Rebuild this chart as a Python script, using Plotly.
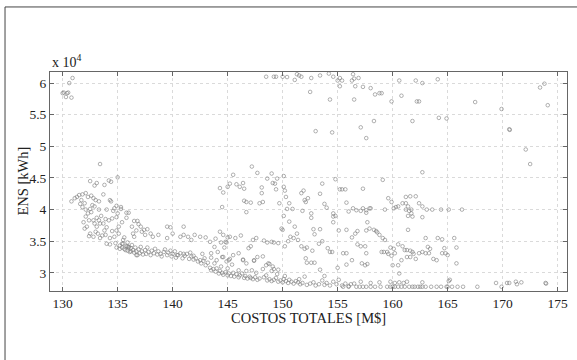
import plotly.graph_objects as go

# Data: (COSTOS TOTALES [M$], ENS [thousand kWh])
top_left = [(130.0,58.4),(130.4,58.4),(130.5,58.5),(130.3,57.8),(130.8,57.7),(130.6,60.0),(130.9,60.8),(130.1,58.5)]

upper_right = [(148.5,61.0),(149.2,61.0),(149.4,61.0),(150.0,61.0),(150.4,60.95),(151.1,60.5),(151.3,61.4),(151.5,61.2),
    (151.7,61.0),(152.6,60.8),(152.5,58.6),(153.4,61.2),(154.2,61.5),(154.3,57.4),(154.6,61.0),(155.0,60.4),(155.2,59.5),
    (155.4,60.4),(155.2,60.8),(156.3,60.4),(156.4,61.4),(156.5,60.7),(156.6,59.5),(156.9,60.8),(156.5,57.4),(157.3,59.4),
    (158.0,59.2),(158.4,58.2),(158.8,58.4),(159.0,58.4),(159.9,57.1),(160.6,60.4),(160.8,58.0),(162.1,60.4),(162.7,60.0),
    (162.2,57.1),(162.4,57.1),(164.1,60.6),(161.8,54.0),(158.3,54.0),(164.2,54.5),(164.9,54.4),(157.1,53.0),(157.6,51.3),
    (153.0,52.4),(154.5,52.2),(167.5,57.0),(169.9,55.9),(170.6,52.7),(170.65,52.6),(172.1,49.5),(172.5,47.2),(173.4,59.3),
    (173.8,59.9),(174.1,56.5)]

far_right_low = [(169.4,28.4),(169.9,27.8),(170.4,28.4),(170.6,28.4),(171.2,28.6),(171.3,28.2),(171.7,28.5),(173.9,28.4),(173.95,28.3)]

bottom_band = [(155.5,27.8),(156.0,27.8),(156.7,27.8),(157.0,27.8),(157.3,27.8),(157.6,27.8),(158.0,27.8),(158.4,27.8),
    (158.9,27.8),(159.5,27.8),(159.8,27.8),(160.0,27.8),(160.2,27.8),(160.5,27.8),(160.8,27.8),(161.1,27.8),(161.5,27.8),
    (161.8,27.8),(162.0,27.8),(162.3,27.8),(162.5,27.8),(162.7,27.8),(163.0,27.8),(163.5,27.8),(164.0,27.8),(164.4,27.8),
    (164.9,27.8),(165.0,27.8),(165.4,27.8),(165.9,27.8),(166.4,27.8),(167.7,27.8),(156.5,28.3),(157.1,28.6),(158.0,28.4),
    (158.8,28.5),(159.8,28.6),(160.2,28.4),(160.6,28.5),(161.0,28.4),(161.3,28.6),(162.7,28.5),(165.2,28.9)]

frontier = [(135.2,34.3),(135.4,34.0),(135.5,34.6),(135.6,33.8),(135.8,34.2),(135.9,33.5),(136.0,34.0),(136.1,33.3),
    (136.2,33.9),(136.3,34.4),(136.4,33.6),(136.5,33.2),(136.6,34.0),(136.7,33.4),(136.8,32.8),(136.9,33.7),(137.0,33.1),
    (137.1,34.1),(137.2,33.4),(137.3,32.9),(137.5,33.6),(137.6,33.0),(137.7,34.0),(137.8,33.3),(138.0,32.8),(138.1,33.5),
    (138.3,33.1),(138.4,33.8),(138.6,32.9),(138.7,33.4),(138.9,33.0),(139.0,32.6),(139.2,33.3),(139.3,33.7),(139.5,32.8),
    (139.6,33.2),(139.8,33.5),(139.9,32.6),(140.0,33.0),(140.2,33.4),(140.3,32.4),(140.5,32.8),(140.7,33.1),(140.9,32.3),
    (141.1,32.7),(141.3,33.0),(141.5,32.2),(141.7,32.6),(141.9,32.1),(142.1,32.3),(142.3,31.8),(142.5,32.0),(142.6,31.5),
    (142.8,31.9),(143.0,31.2),(143.2,31.6),(143.4,30.8),(143.5,30.4),(143.7,30.6),(143.9,30.2),(144.0,30.7),(144.2,29.9),
    (144.3,30.3),(144.5,30.0),(144.6,29.7),(144.8,30.1),(145.0,29.6),(145.1,29.9),(145.3,29.5),(145.5,30.0),(145.6,29.4),
    (145.8,29.8),(146.0,29.3),(146.1,29.6),(146.3,29.9),(146.5,29.2),(146.6,29.5),(146.8,29.1),(147.0,29.4),(147.1,29.2),
    (147.3,29.0),(147.5,29.3),(147.7,28.9),(147.9,29.1),(148.3,29.3),(148.6,28.8),(148.8,29.0),(149.0,28.7),(149.2,28.9),
    (149.4,29.2),(149.6,28.6),(149.8,28.8),(150.0,28.5),(150.1,29.0),(150.3,28.7),(150.5,28.4),(150.6,28.9),(150.8,28.6),
    (151.0,28.3),(151.2,28.7),(151.4,28.5),(151.6,28.2),(151.8,28.4),(152.2,28.1),(152.5,28.3),(152.8,28.5),(153.0,28.0),
    (153.3,28.2),(153.6,28.8),(153.8,28.1),(154.0,28.4),(154.3,28.0),(154.6,28.6),(154.9,28.2),(155.1,28.9),(155.4,28.0),
    (155.7,28.3),(156.0,27.9),(156.2,28.2),
    (143.8,31.5),(144.4,31.0),(145.0,30.7),(145.4,31.3),(146.0,30.4),(146.7,30.3),(147.2,30.4),(147.6,30.0),(148.2,30.6),
    (149.0,30.3),(149.5,29.8),(148.5,29.6),(144.9,31.8),(145.2,32.2),(146.4,32.1),(147.4,31.9),(148.5,31.2),(148.8,31.4),
    (149.2,30.6),(150.2,29.5),(151.5,29.0),(152.0,29.4),(143.5,32.4),(144.1,33.3),(144.6,32.5)]

left_cluster = [(130.8,41.3),(131.1,41.8),(131.3,42.0),(131.5,42.3),(131.8,42.4),(132.1,42.6),(132.3,42.0),(132.6,42.2),
    (132.8,41.8),(133.0,41.5),(133.3,41.3),(133.7,42.4),(134.3,41.5),(134.4,41.3),(134.9,40.6),(135.3,40.4),(131.6,40.9),
    (131.8,40.4),(132.1,40.0),(132.5,40.1),(132.7,40.7),(133.3,40.0),(134.0,40.0),(134.7,40.2),(132.3,39.4),(132.1,38.9),
    (132.4,38.3),(132.8,38.3),(133.1,38.7),(133.3,38.3),(132.9,37.8),(133.1,37.3),(133.4,37.8),(133.7,37.8),(133.8,36.7),
    (132.2,37.3),(132.5,36.2),(132.8,35.7),(133.2,36.2),(133.4,35.5),(133.9,36.0),(134.3,35.5),(134.5,36.6),(134.2,38.3),
    (134.5,38.6),(135.0,39.4),(134.9,38.8),(135.8,39.5),(136.0,39.5),(135.8,38.7),(135.4,38.0),(135.1,37.3),(134.9,36.7),
    (135.1,36.2),(134.7,35.7),(134.0,34.6),(134.3,34.5),(134.8,34.7),(135.4,34.6),(134.9,34.0),(135.2,33.8),(135.9,34.2),
    (135.9,34.8),(135.6,35.6),(135.5,35.2),(136.5,35.7),(136.7,36.7),(136.5,38.2),(136.8,38.2),(136.9,37.7),(137.1,37.3),
    (137.4,36.8),(137.7,36.9),(136.3,37.3),(136.4,36.2),(137.2,36.5),(137.5,36.0),(136.0,34.1),(135.7,33.6),(136.2,33.4),
    (136.7,32.8),(133.4,47.2),(132.5,44.5),(133.1,44.2),(132.9,43.8),(134.2,44.6),(134.4,44.4),(135.0,45.1),(133.8,43.9),
    (131.9,38.0),(132.0,37.0),(132.6,39.6),(133.5,39.0),(133.0,36.5),(133.6,35.9),(134.0,37.2),(132.4,35.8),(133.9,38.5),
    (134.6,39.8),(135.3,40.1),(132.9,40.5),(131.7,41.5),(132.0,41.0)]

mid_scatter = [(139.5,37.3),(139.8,37.2),(141.0,37.3),(138.0,36.2),(138.2,35.7),(138.7,36.0),(139.5,35.5),(140.0,36.2),
    (140.7,35.7),(141.0,36.0),(141.4,35.7),(141.7,35.2),(142.0,36.0),(142.5,35.7),(143.0,35.6),(143.4,34.9),(143.9,35.4),
    (144.4,34.8),(144.9,34.8),(145.2,35.7),(144.7,34.0),(143.8,34.1),(143.5,33.1),(144.0,32.0),(144.5,32.5),(145.1,32.0),
    (145.5,32.8),(146.0,33.1),(146.4,32.0),(146.7,31.5),(147.4,32.0),(147.7,32.5),(148.2,32.6),(148.7,31.5),(149.1,31.0),
    (149.6,30.5),(141.6,33.2),(141.9,32.7),(142.7,33.0),(142.9,32.3),(141.0,33.0),(140.4,32.8),(144.3,36.5),(144.6,36.0),
    (144.8,34.9),(145.0,35.6),(145.7,35.5),(146.2,35.9),(147.3,35.2),(147.6,35.5),(146.9,33.9),(147.1,34.2)]

upper_mid = [(144.3,43.4),(144.6,42.7),(144.5,40.4),(145.0,43.6),(145.2,44.1),(145.5,45.5),(145.8,44.0),(146.1,43.6),
    (146.4,44.2),(146.5,43.3),(146.5,41.4),(146.7,41.2),(146.7,39.6),(147.1,41.1),(147.2,46.8),(147.7,45.8),(148.1,43.5),
    (148.1,42.6),(148.2,41.2),(147.9,41.0),(148.6,44.9),(149.0,45.7),(149.1,44.2),(149.3,44.1),(149.4,43.2),(149.5,44.9),
    (149.7,41.0),(150.1,45.3),(150.1,43.6),(150.3,42.0),(150.6,41.0),(150.4,40.1),(150.9,40.1),(150.2,43.0),(150.1,39.0),
    (150.6,38.1),(151.1,37.3),(151.3,36.2),(151.7,42.6),(151.9,43.0),(152.0,41.5),(152.1,41.2),(152.3,41.8),(151.8,39.8),
    (152.6,39.4),(152.6,38.7),(152.8,36.9),(152.9,36.1),(153.4,42.5),(153.6,44.1),(153.8,40.9),(154.0,40.3),(153.4,36.9),
    (154.8,44.8),(155.2,43.2),(155.4,43.2),(155.7,43.2),(155.8,41.1),(156.0,39.7),(156.4,40.2),(156.7,39.9),(157.1,39.8),
    (157.3,40.2),(157.6,39.9),(157.9,40.2),(158.0,40.2),(157.3,43.3),(154.6,39.4),(154.6,38.9),(154.8,39.0),(154.6,38.0),
    (155.1,36.7),(155.8,36.8),(156.3,35.6),(156.6,36.2),(156.8,36.6),(157.6,36.7),(157.9,37.0),(158.3,36.8),(158.5,36.6),
    (158.6,36.4),(158.8,36.0),(159.1,35.5),(159.3,35.2),(157.7,38.0),(157.6,39.5),(159.1,44.7),(159.6,41.8),(159.3,40.0),
    (159.9,41.2),(160.1,40.2),(160.3,40.4),(160.5,40.5),(160.9,41.0),(161.2,42.0),(161.6,42.1),(162.1,42.1),(162.4,41.0),
    (162.7,40.5),(162.7,45.9),(163.1,40.0),(163.6,40.0),(164.4,40.0),(165.1,40.0),(166.3,40.0),(161.2,41.0),(161.4,40.5),
    (161.7,40.0),(161.2,40.0),(161.5,39.8),(161.7,39.4),(161.4,39.0),(161.8,38.9),(161.4,36.8),(162.7,38.8),(163.0,35.5),
    (163.2,34.1),(163.3,33.1),(164.1,35.5),(164.5,35.3),(164.7,33.9),(164.8,33.1),(165.6,35.5),(165.8,34.0),(165.8,31.5),
    (165.1,28.7)]

right_mid = [(155.5,33.1),(155.8,33.1),(156.8,34.5),(157.1,34.2),(157.5,34.2),(157.6,33.1),(157.2,31.5),(157.5,31.2),
    (157.7,31.4),(159.0,33.3),(159.2,33.3),(159.5,33.3),(159.6,33.0),(159.9,32.7),(160.1,33.8),(160.2,33.1),(160.5,31.2),
    (160.8,32.0),(160.9,34.2),(161.1,33.6),(161.3,33.6),(161.6,33.5),(161.8,33.3),(161.9,33.0),(161.3,32.5),(161.6,32.5),
    (162.1,32.2),(162.4,33.1),(162.7,33.3),(163.0,33.1),(163.4,33.8),(163.7,32.2),(164.0,32.0),(164.5,33.1),(165.0,32.8),
    (160.0,31.2),(160.6,29.9),(159.8,34.0),(160.5,34.5),
    (150.7,35.7),(151.0,35.5),(151.4,35.2),(151.7,34.2),(152.0,33.8),(152.2,34.0),(152.7,33.5),(152.9,31.6),(152.1,32.3),
    (152.2,31.6),(152.6,31.6),(153.3,34.6),(153.6,35.0),(154.1,33.9),(154.5,33.3),(154.3,33.3),(153.4,30.5),(153.8,29.5),
    (150.2,34.2),(150.5,35.0),(149.6,34.7),(149.2,34.8),(149.0,34.9),(148.6,34.8),(148.3,35.1),(150.0,36.8),(149.9,37.0),
    (155.0,30.8),(156.3,32.0),(155.8,31.3)]

groups = [top_left, upper_right, far_right_low, bottom_band, frontier, left_cluster, mid_scatter, upper_mid, right_mid]
costs = [p[0] for g in groups for p in g]
ens_k = [p[1] for g in groups for p in g]
ens = [v * 1000 for v in ens_k]

x_ticks = [130, 135, 140, 145, 150, 155, 160, 165, 170, 175]
y_ticks = [30000, 35000, 40000, 45000, 50000, 55000, 60000]
y_tick_text = ["3", "3.5", "4", "4.5", "5", "5.5", "6"]

font_family = "Liberation Serif, Times New Roman, serif"

fig = go.Figure()
fig.add_trace(go.Scatter(
    x=costs, y=ens, mode="markers",
    marker=dict(symbol="circle-open", size=3.6, color="#7c7c7c", line=dict(width=0.6)),
    hoverinfo="x+y", showlegend=False,
))

axis_common = dict(
    showline=True, linecolor="#666", linewidth=1, mirror="ticks",
    ticks="inside", ticklen=4, tickcolor="#666",
    showgrid=True, gridcolor="#dadada", griddash="dot", gridwidth=1,
    zeroline=False, tickfont=dict(family=font_family, size=13.5, color="#222"),
)

fig.update_xaxes(range=[128.85, 175.85], tickvals=x_ticks, ticklabelstandoff=0, **axis_common)
fig.update_yaxes(range=[27130, 61750], tickvals=y_ticks, ticktext=y_tick_text, **axis_common)

fig.add_annotation(xref="paper", yref="paper", x=0.5, y=-0.123, xanchor="center", yanchor="middle",
                   text="COSTOS TOTALES [M$]", showarrow=False,
                   font=dict(family=font_family, size=14.5, color="#222"))
fig.add_annotation(xref="paper", yref="paper", x=-0.054, y=0.5, xanchor="center", yanchor="middle",
                   text="ENS [kWh]", textangle=-90, showarrow=False,
                   font=dict(family=font_family, size=14.5, color="#222"))
fig.add_annotation(xref="paper", yref="paper", x=0.0, y=1.0, xanchor="left", yanchor="bottom",
                   text="x 10<sup>4</sup>", showarrow=False,
                   font=dict(family=font_family, size=14, color="#222"))

fig.add_shape(type="rect", xref="paper", yref="paper", x0=-0.087, x1=1.05, y0=-0.45, y1=1.297,
              line=dict(color="#444", width=1), fillcolor="rgba(0,0,0,0)", layer="below")

fig.update_layout(
    width=577, height=360,
    margin=dict(l=50, r=10, t=72, b=69),
    paper_bgcolor="white", plot_bgcolor="white",
    font=dict(family=font_family),
)

fig.write_html("out.html")
